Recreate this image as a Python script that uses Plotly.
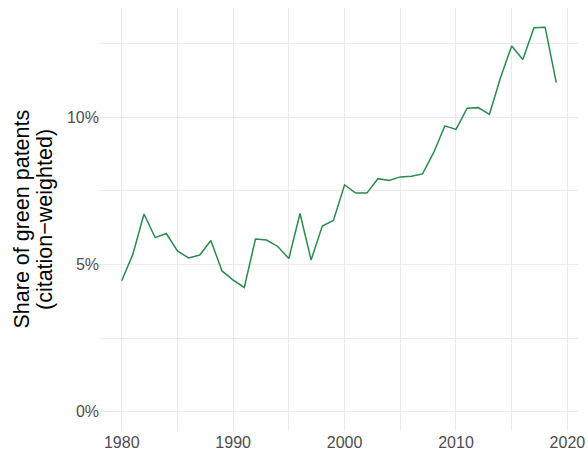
import plotly.graph_objects as go

years = list(range(1980, 2020))
share_pct = [4.45, 5.35, 6.71, 5.91, 6.05, 5.46, 5.22, 5.32, 5.81, 4.78,
             4.47, 4.22, 5.86, 5.83, 5.61, 5.20, 6.73, 5.15, 6.30, 6.49,
             7.70, 7.42, 7.42, 7.91, 7.85, 7.97, 7.99, 8.07, 8.80, 9.70,
             9.58, 10.30, 10.32, 10.09, 11.34, 12.41, 11.95, 13.03, 13.05, 11.17]
x_ticks = [1980, 1990, 2000, 2010, 2020]
y_ticks = [0, 5, 10]
y_title_lines = ["Share of green patents", "(citation\u2212weighted)"]

W, H = 588, 452
L, R, T, B = 100, 10, 8, 21
plot_w = W - L - R

fig = go.Figure()
fig.add_trace(go.Scatter(x=years, y=share_pct, mode="lines",
                         line=dict(color="#2b8a4e", width=1.5),
                         hoverinfo="skip", showlegend=False))

grid = "#ebebeb"
font_family = "Liberation Sans, Arial, sans-serif"
fig.update_layout(
    width=W, height=H,
    margin=dict(l=L, r=R, t=T, b=B),
    paper_bgcolor="white", plot_bgcolor="white",
    font=dict(family=font_family, color="#4d4d4d", size=16),
    xaxis=dict(range=[1978.05, 2020.95], tickvals=x_ticks, ticktext=[str(v) for v in x_ticks],
               showgrid=True, gridcolor=grid, gridwidth=1.1, zeroline=False,
               showline=False, ticks="", ticklen=0, automargin=False,
               minor=dict(tickvals=[1985, 1995, 2005, 2015], showgrid=True,
                          gridcolor=grid, gridwidth=0.6),
               tickfont=dict(size=16, color="#4d4d4d")),
    yaxis=dict(range=[-0.65, 13.70], tickvals=y_ticks,
               ticktext=[f"{v}%" for v in y_ticks],
               showgrid=True, gridcolor=grid, gridwidth=1.1, zeroline=False,
               showline=False, ticks="", ticklen=0, automargin=False,
               minor=dict(tickvals=[2.5, 7.5, 12.5], showgrid=True,
                          gridcolor=grid, gridwidth=0.6),
               tickfont=dict(size=16, color="#4d4d4d")),
)

for px, line in zip([21, 44.5], y_title_lines):
    fig.add_annotation(text=line, xref="paper", yref="paper",
                       x=(px - L) / plot_w, y=0.5, xanchor="center", yanchor="middle",
                       textangle=-90, showarrow=False,
                       font=dict(size=21.5, color="black", family=font_family))

fig.write_html("out.html", config={"displayModeBar": False},
               post_script="document.body.style.margin='0';")
